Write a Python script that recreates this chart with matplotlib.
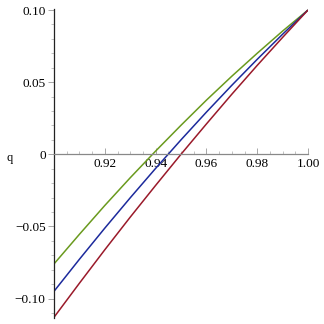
import matplotlib
matplotlib.use("Agg")
import matplotlib.pyplot as plt
from matplotlib.ticker import MultipleLocator, FixedLocator

x = [0.90, 0.91, 0.92, 0.93, 0.94, 0.95, 0.96, 0.97, 0.98, 0.99, 1.00]
green = [-0.0760, -0.0555, -0.0355, -0.0163, 0.0022, 0.0201, 0.0375, 0.0541, 0.0700, 0.0854, 0.1000]
blue = [-0.0950, -0.0728, -0.0512, -0.0302, -0.0098, 0.0100, 0.0292, 0.0478, 0.0658, 0.0832, 0.1000]
red = [-0.1130, -0.0894, -0.0662, -0.0436, -0.0216, 0.0000, 0.0210, 0.0416, 0.0616, 0.0810, 0.1000]
xticks = [0.92, 0.94, 0.96, 0.98, 1.00]
xtick_labels = ["0.92", "0.94", "0.96", "0.98", "1.00"]
yticks = [-0.10, -0.05, 0.0, 0.05, 0.10]
ytick_labels = ["\u22120.10", "\u22120.05", "0", "0.05", "0.10"]

plt.rcParams['font.family'] = ['Liberation Serif', 'DejaVu Serif']
plt.rcParams['font.serif'] = ['Liberation Serif', 'DejaVu Serif']

fig = plt.figure(figsize=(3.24, 3.24), dpi=100)
W = H = 324.0
ax = fig.add_axes([54 / W, 1 - 318 / H, (308 - 54) / W, (318 - 9) / H])
ax.set_xlim(0.9, 1.0)
ax.set_ylim(-0.1135, 0.1007)

ax.plot(x, green, color='#6a9a1e', lw=1.1, solid_capstyle='butt')
ax.plot(x, blue, color='#1c2a9c', lw=1.1, solid_capstyle='butt')
ax.plot(x, red, color='#9a1a2a', lw=1.1, solid_capstyle='butt')

for s in ['top', 'right']:
    ax.spines[s].set_visible(False)
ax.spines['left'].set_position(('data', 0.9))
ax.spines['left'].set_color('#222222')
ax.spines['left'].set_linewidth(0.9)
ax.spines['bottom'].set_position(('data', 0.0))
ax.spines['bottom'].set_color('#888888')
ax.spines['bottom'].set_linewidth(0.9)

ax.xaxis.set_major_locator(FixedLocator(xticks))
ax.set_xticklabels(xtick_labels, fontfamily='Liberation Serif')
ax.xaxis.set_minor_locator(MultipleLocator(0.005))
ax.yaxis.set_major_locator(FixedLocator(yticks))
ax.set_yticklabels(ytick_labels, fontfamily=['Liberation Serif', 'DejaVu Serif'])
ax.yaxis.set_minor_locator(MultipleLocator(0.01))

ax.tick_params(axis='x', which='major', direction='in', length=4, width=0.6,
               color='#999999', labelsize=9.5, pad=3)
ax.tick_params(axis='x', which='minor', direction='in', length=2, width=0.5,
               color='#aaaaaa')
ax.tick_params(axis='y', which='major', direction='out', length=4, width=0.6,
               color='#999999', labelsize=9.5, pad=2)
ax.tick_params(axis='y', which='minor', direction='out', length=2, width=0.5,
               color='#aaaaaa')

fig.text(10 / W, 1 - 158 / H, "q", fontsize=9, ha='center', va='center',
         fontfamily='Liberation Serif')

fig.savefig("out.png", dpi=100)
